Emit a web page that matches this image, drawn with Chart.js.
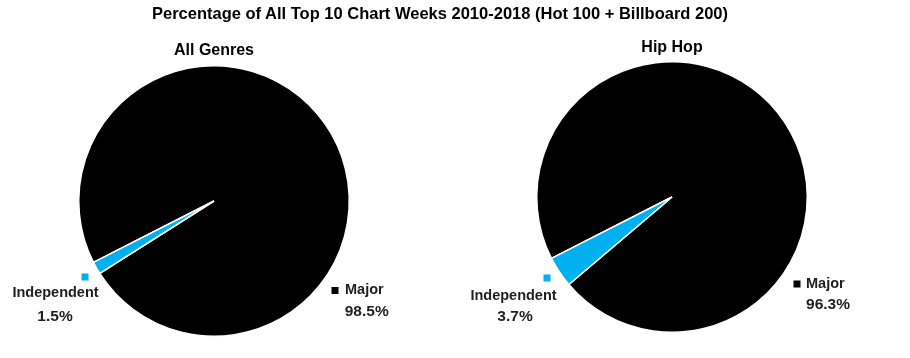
<!DOCTYPE html>
<html>
<head>
<meta charset="utf-8">
<script src="https://cdn.jsdelivr.net/npm/chart.js@4"></script>
<style>
  html, body { margin: 0; padding: 0; background: #fff; }
  #wrap { position: relative; width: 910px; height: 358px; overflow: hidden; }
  #titulo {
    position: absolute; left: 0; width: 880px; top: 4px; text-align: center;
    font: bold 16.5px "Liberation Sans", Arial, sans-serif; color: #000; z-index: 2;
  }
  canvas { position: absolute; top: 0; }
  #pie-all { left: 0; }
  #pie-hiphop { left: 450px; }
</style>
</head>
<body>
<div id="wrap">
  <div id="titulo">Percentage of All Top 10 Chart Weeks 2010-2018 (Hot 100 + Billboard 200)</div>
  <canvas id="pie-all" width="450" height="358"></canvas>
  <canvas id="pie-hiphop" width="460" height="358"></canvas>
</div>
<script>
// dados
const categorias = ['Major', 'Independent'];
const sharesAllGenres = [98.5, 1.5];
const sharesHipHop = [96.3, 3.7];
const titulosPizza = ['All Genres', 'Hip Hop'];
const coresCategorias = ['#000000', '#00b0f0'];

const FONTE = '"Liberation Sans", Arial, sans-serif';

// rótulos estilo Excel: quadradinho da legenda + nome + percentual
// posições relativas ao centro da pizza (dx, dy)
const rotulosPlugin = {
  id: 'rotulosFatias',
  afterDraw(chart, args, opts) {
    const ctx = chart.ctx;
    const meta = chart.getDatasetMeta(0);
    const ds = chart.data.datasets[0];
    const cx = meta.data[0].x;
    const cy = meta.data[0].y;
    ctx.save();
    ctx.textBaseline = 'middle';
    opts.posicoes.forEach((p, i) => {
      ctx.fillStyle = ds.backgroundColor[i];
      ctx.fillRect(cx + p.chave[0] - 3.5, cy + p.chave[1] - 3.5, 7, 7);
      ctx.fillStyle = '#1e1e1e';
      ctx.font = 'bold 14.5px ' + FONTE;
      ctx.textAlign = p.alinhaNome;
      ctx.fillText(chart.data.labels[i], cx + p.nome[0], cy + p.nome[1]);
      ctx.font = 'bold 15.5px ' + FONTE;
      ctx.textAlign = 'center';
      ctx.fillText(ds.data[i].toFixed(1) + '%', cx + p.pct[0], cy + p.pct[1]);
    });
    ctx.restore();
  }
};

function criarPizza(idCanvas, titulo, valores, layout, tituloPad, posicoes) {
  return new Chart(document.getElementById(idCanvas), {
    type: 'pie',
    data: {
      labels: categorias,
      datasets: [{
        data: valores,
        backgroundColor: coresCategorias,
        borderColor: '#ffffff',
        borderWidth: 1.5
      }]
    },
    options: {
      responsive: false,
      animation: false,
      rotation: 243,
      layout: { padding: layout },
      plugins: {
        legend: { display: false },
        tooltip: { enabled: false },
        title: {
          display: true,
          text: titulo,
          color: '#000',
          font: { family: FONTE, size: 16, weight: 'bold', lineHeight: 1.2 },
          padding: tituloPad
        },
        rotulosFatias: { posicoes }
      }
    },
    plugins: [rotulosPlugin]
  });
}

criarPizza('pie-all', titulosPizza[0], sharesAllGenres,
  { left: 78, right: 100, top: 0, bottom: 21 },
  { top: 41.4, bottom: 4.4 },
  [
    { chave: [121, 89.5], nome: [131, 89], alinhaNome: 'left', pct: [152.7, 110.7] },
    { chave: [-129, 76], nome: [-158.5, 92], alinhaNome: 'center', pct: [-159, 116] }
  ]);

criarPizza('pie-hiphop', titulosPizza[1], sharesHipHop,
  { left: 86, right: 102, top: 0, bottom: 25 },
  { top: 37.7, bottom: 4.1 },
  [
    { chave: [125, 87], nome: [134, 87], alinhaNome: 'left', pct: [156, 108] },
    { chave: [-125, 81], nome: [-158.5, 99], alinhaNome: 'center', pct: [-157, 120] }
  ]);
</script>
</body>
</html>
